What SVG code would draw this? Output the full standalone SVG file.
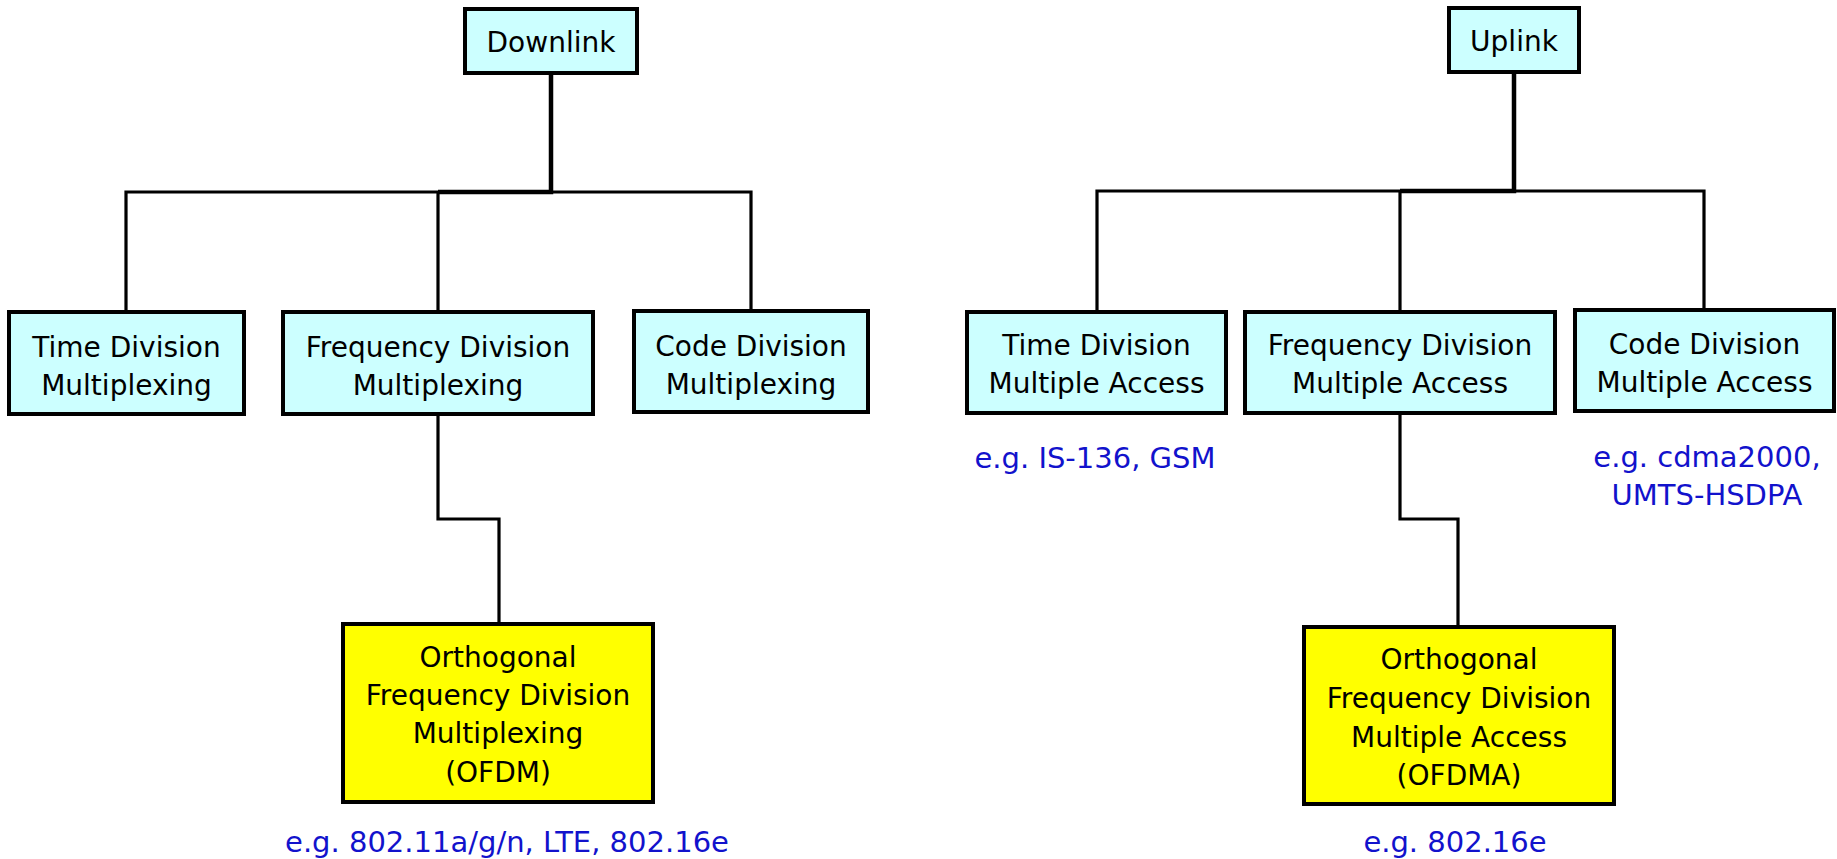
<svg xmlns="http://www.w3.org/2000/svg" width="1837" height="859" viewBox="0 0 1837 859">
  <style>
    .box { stroke: #000; stroke-width: 4; }
    .cyan { fill: #CCFFFF; }
    .yellow { fill: #FFFF00; }
    .lbl { font-family: "DejaVu Sans", Verdana, sans-serif; font-size: 28px; fill: #000; text-anchor: middle; }
    .ex { font-family: "DejaVu Sans", Verdana, sans-serif; font-size: 29px; fill: #1212CC; text-anchor: middle; }
    .trunk { fill: none; stroke: #000; stroke-width: 4.5; }
    .branch { fill: none; stroke: #000; stroke-width: 3.2; }
  </style>
  <rect x="0" y="0" width="1837" height="859" fill="#FFFFFF"/>

  <!-- connectors -->
  <g id="connectors">
    <!-- downlink tree -->
    <path class="trunk" d="M551 73 V192 H438"/>
    <path class="branch" d="M126 312 V192 H751 V312"/>
    <path class="branch" d="M438 192 V312"/>
    <path class="branch" d="M438 414 V519 H499 V624"/>
    <!-- uplink tree -->
    <path class="trunk" d="M1514 72 V191 H1400"/>
    <path class="branch" d="M1097 312 V191 H1704 V310"/>
    <path class="branch" d="M1400 191 V312"/>
    <path class="branch" d="M1400 413 V519 H1458 V627"/>
  </g>

  <!-- downlink side -->
  <g id="downlink">
    <rect class="box cyan" x="465" y="9" width="172" height="64"/>
    <text class="lbl" x="551" y="52">Downlink</text>
  </g>
  <g id="tdm">
    <rect class="box cyan" x="9" y="312" width="235" height="102"/>
    <text class="lbl" x="126.5" y="357">Time Division</text>
    <text class="lbl" x="126.5" y="395">Multiplexing</text>
  </g>
  <g id="fdm">
    <rect class="box cyan" x="283" y="312" width="310" height="102"/>
    <text class="lbl" x="438" y="357">Frequency Division</text>
    <text class="lbl" x="438" y="395">Multiplexing</text>
  </g>
  <g id="cdm">
    <rect class="box cyan" x="634" y="311" width="234" height="101"/>
    <text class="lbl" x="751" y="356">Code Division</text>
    <text class="lbl" x="751" y="394">Multiplexing</text>
  </g>
  <g id="ofdm">
    <rect class="box yellow" x="343" y="624" width="310" height="178"/>
    <text class="lbl" x="498" y="667">Orthogonal</text>
    <text class="lbl" x="498" y="705">Frequency Division</text>
    <text class="lbl" x="498" y="743">Multiplexing</text>
    <text class="lbl" x="498" y="782">(OFDM)</text>
    <text class="ex" x="507" y="852">e.g. 802.11a/g/n, LTE, 802.16e</text>
  </g>

  <!-- uplink side -->
  <g id="uplink">
    <rect class="box cyan" x="1449" y="8" width="130" height="64"/>
    <text class="lbl" x="1514" y="51">Uplink</text>
  </g>
  <g id="tdma">
    <rect class="box cyan" x="967" y="312" width="259" height="101"/>
    <text class="lbl" x="1096.5" y="355">Time Division</text>
    <text class="lbl" x="1096.5" y="393">Multiple Access</text>
    <text class="ex" x="1095" y="468">e.g. IS-136, GSM</text>
  </g>
  <g id="fdma">
    <rect class="box cyan" x="1245" y="312" width="310" height="101"/>
    <text class="lbl" x="1400" y="355">Frequency Division</text>
    <text class="lbl" x="1400" y="393">Multiple Access</text>
  </g>
  <g id="cdma">
    <rect class="box cyan" x="1575" y="310" width="259" height="101"/>
    <text class="lbl" x="1704.5" y="354">Code Division</text>
    <text class="lbl" x="1704.5" y="392">Multiple Access</text>
    <text class="ex" x="1707" y="467">e.g. cdma2000,</text>
    <text class="ex" x="1707" y="505">UMTS-HSDPA</text>
  </g>
  <g id="ofdma">
    <rect class="box yellow" x="1304" y="627" width="310" height="177"/>
    <text class="lbl" x="1459" y="669">Orthogonal</text>
    <text class="lbl" x="1459" y="708">Frequency Division</text>
    <text class="lbl" x="1459" y="747">Multiple Access</text>
    <text class="lbl" x="1459" y="785">(OFDMA)</text>
    <text class="ex" x="1455" y="852">e.g. 802.16e</text>
  </g>
</svg>
